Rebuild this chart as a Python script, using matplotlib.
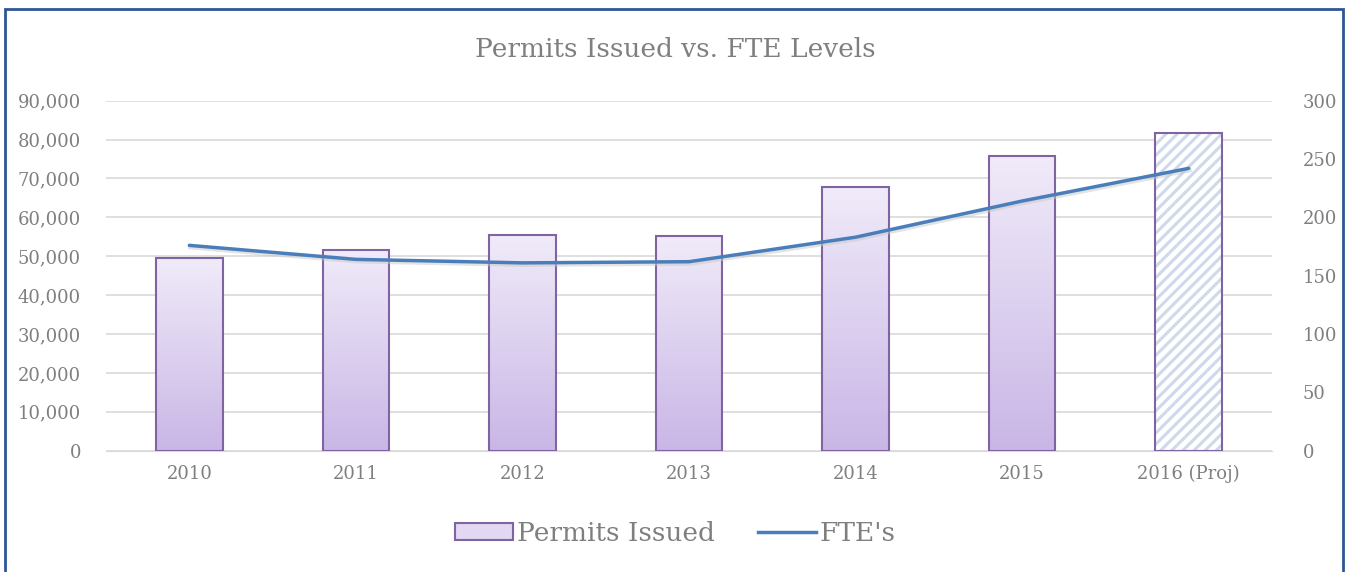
import numpy as np
import matplotlib.pyplot as plt
from matplotlib.colors import LinearSegmentedColormap
from matplotlib.patches import Rectangle, Patch
from matplotlib.lines import Line2D
from matplotlib.transforms import ScaledTranslation

plt.rcParams['font.family'] = ['DejaVu Serif']
plt.rcParams['hatch.linewidth'] = 2.2

years = ['2010', '2011', '2012', '2013', '2014', '2015', '2016 (Proj)']
permits = [49600, 51700, 55500, 55300, 67900, 75900, 81800]
ftes = [176, 164, 161, 162, 183, 214, 242]

grey = '#7f7f7f'
edge = '#8064a2'
line_col = '#4a7ebb'

fig = plt.figure(figsize=(13.51, 5.72), dpi=100)
ax = fig.add_axes([0.0785, 0.212, 0.863, 0.612])
ax2 = ax.twinx()

x = np.arange(len(years))
cmap = LinearSegmentedColormap.from_list('lav', ['#c9b6e6', '#f0ebf9'])
grad = np.linspace(0, 1, 256).reshape(-1, 1)

bars = ax.bar(x, permits, width=0.4, color='none', edgecolor=edge, linewidth=1.5, zorder=3)
for i, b in enumerate(bars):
    if i == len(bars) - 1:
        # projected year: hatched
        b.set_facecolor('white')
        b.set_hatch('///')
        b.set_edgecolor('#cfd9ec')
        b.set_linewidth(0)
        ax.add_patch(Rectangle(b.get_xy(), b.get_width(), b.get_height(), fill=False,
                               edgecolor=edge, linewidth=1.5, zorder=4))
    else:
        im = ax.imshow(grad, cmap=cmap, origin='lower', aspect='auto', zorder=2,
                       extent=[b.get_x(), b.get_x() + b.get_width(), 0, b.get_height()])
        im.set_clip_path(b)

ax.set_xlim(-0.5, len(years) - 0.5)
ax.set_ylim(0, 90000)
ax.set_yticks(np.arange(0, 90001, 10000))
ax.set_yticklabels([f'{v:,}' for v in range(0, 90001, 10000)])
ax.set_xticks(x)
ax.set_xticklabels(years)
ax.grid(axis='y', color='#d9d9d9', linewidth=1.2, zorder=0)
ax.set_axisbelow(True)

# faint shadow under the line
shadow = ax2.transData + ScaledTranslation(1 / 100, -2 / 100, fig.dpi_scale_trans)
ax2.plot(x, ftes, color='#c8c8c8', linewidth=3, alpha=0.5, zorder=1, transform=shadow)
ax2.plot(x, ftes, color=line_col, linewidth=2.5, zorder=5, solid_capstyle='round')
ax2.set_ylim(0, 300)
ax2.set_yticks(np.arange(0, 301, 50))

for a in (ax, ax2):
    for s in a.spines.values():
        s.set_visible(False)
    a.tick_params(length=0, labelsize=13, labelcolor=grey)
ax.tick_params(axis='y', pad=18)
ax2.tick_params(axis='y', pad=22)
ax.tick_params(axis='x', pad=10)
ax.spines['bottom'].set_visible(True)
ax.spines['bottom'].set_color('#d9d9d9')

fig.text(0.5, 0.913, 'Permits Issued vs. FTE Levels', ha='center', va='center',
         fontsize=19, color=grey)

handles = [Patch(facecolor='#e2d8f2', edgecolor=edge, linewidth=1.5),
           Line2D([0], [0], color=line_col, linewidth=2.5)]
fig.legend(handles, ['Permits Issued', "FTE's"], loc='center', bbox_to_anchor=(0.5, 0.068),
           ncol=2, frameon=False, fontsize=19, labelcolor=grey, handlelength=2.2,
           handleheight=0.6, handletextpad=0.15, columnspacing=1.6)

fig.patches.append(Rectangle((5 / 1351, -0.05), 1338 / 1351, 1.034, transform=fig.transFigure,
                             fill=False, edgecolor='#2f5597', linewidth=2))

fig.savefig('out.png', dpi=100)
